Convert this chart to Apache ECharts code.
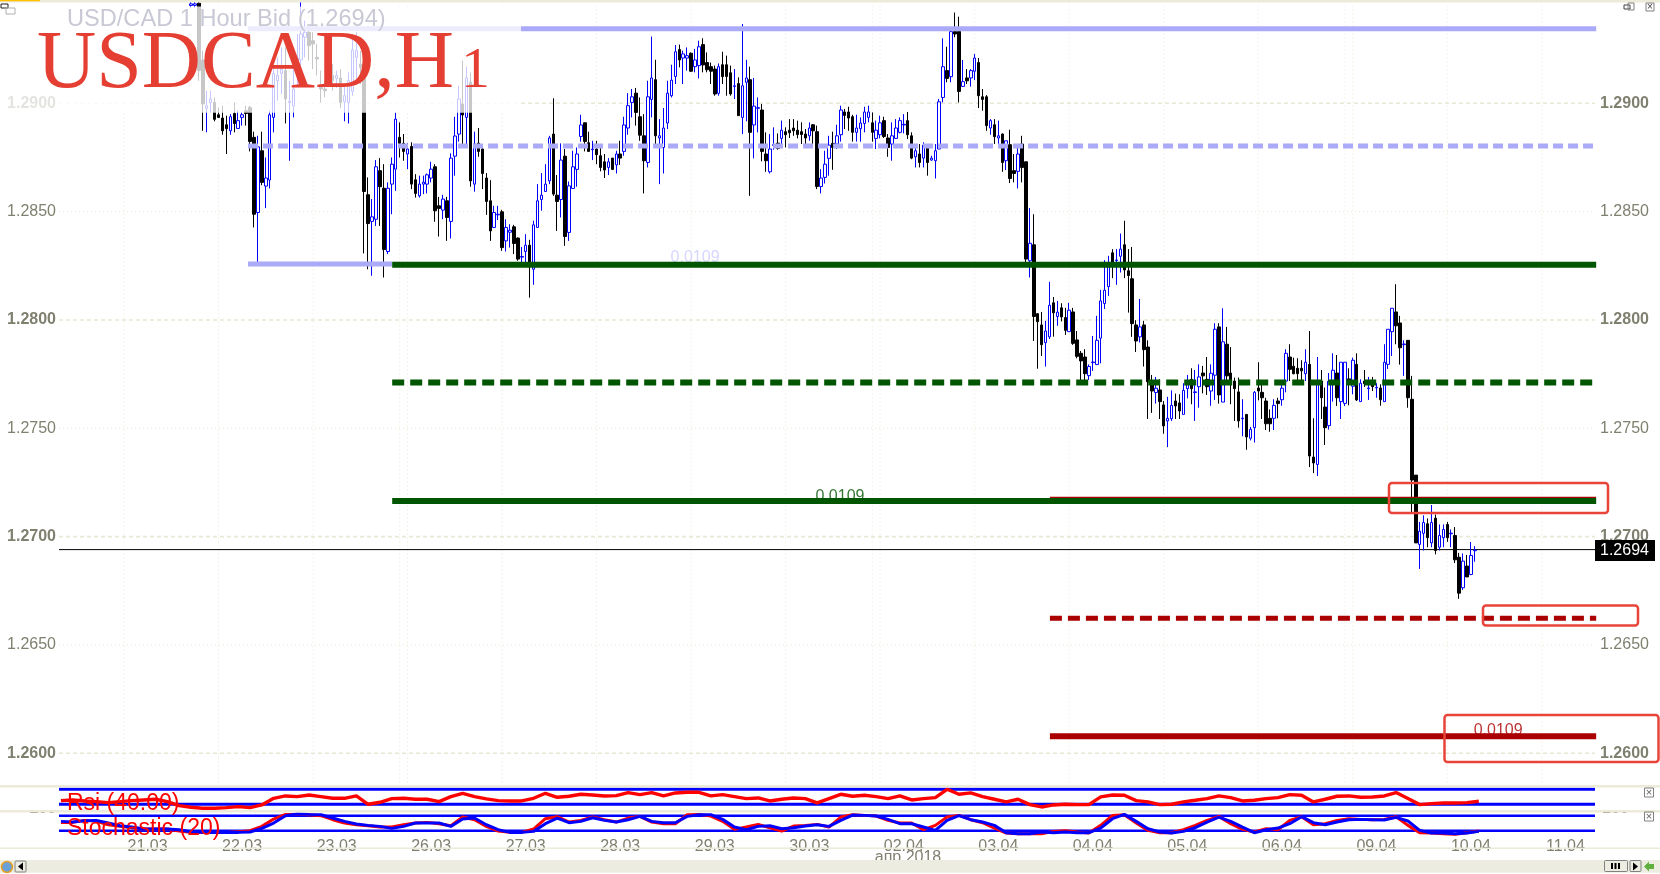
<!DOCTYPE html>
<html><head><meta charset="utf-8">
<style>html,body{margin:0;padding:0;background:#fff}#c{width:1660px;height:874px}</style>
<script src="https://cdn.jsdelivr.net/npm/echarts@6/dist/echarts.min.js"></script>
</head><body><div id="c"></div>
<script>
const firstCandleSlot = 33;
const opens = [1.29452,1.29452,
1.29462,1.29200,1.28977,1.29004,1.29004,1.28947,1.28932,1.28901,1.28873,1.28953,
1.28884,1.28935,1.28966,1.28981,1.28843,1.28496,1.28781,1.28618,1.28646,1.28935,
1.29104,1.29138,1.29151,1.29004,1.28987,1.29158,1.29200,1.29305,1.29328,1.29289,
1.29212,1.29074,1.29066,1.29104,1.29128,1.29115,1.29117,1.29007,1.29004,1.29055,
1.29212,1.29181,1.29181,1.28578,1.28455,1.28465,1.28689,1.28608,1.28316,1.28627,
1.28696,1.28843,1.28815,1.28766,1.28801,1.28647,1.28573,1.28627,1.28627,1.28655,
1.28707,1.28527,1.28507,1.28550,1.28455,1.28756,1.28858,1.28997,1.28935,1.29097,
1.28627,1.28816,1.28789,1.28655,1.28550,1.28427,1.28485,1.28499,1.28365,1.28405,
1.28430,1.28378,1.28290,1.28316,1.28345,1.28234,1.28427,1.28556,1.28593,1.28642,
1.28858,1.28576,1.28556,1.28756,1.28404,1.28607,1.28695,1.28847,1.28910,1.28818,
1.28786,1.28789,1.28758,1.28730,1.28704,1.28747,1.28716,1.28766,1.28778,1.28886,
1.29004,1.29047,1.28938,1.28850,1.28727,1.29018,1.29109,1.28840,1.28796,1.28909,
1.29035,1.29124,1.29248,1.29209,1.29209,1.29231,1.29169,1.29174,1.29271,1.29188,
1.29169,1.29158,1.29046,1.29178,1.29178,1.29141,1.29078,1.29091,1.28935,1.29097,
1.29109,1.28900,1.28977,1.28969,1.28766,1.28684,1.28806,1.28816,1.28838,1.28869,
1.28876,1.28886,1.28876,1.28869,1.28858,1.28850,1.28901,1.28869,1.28616,1.28658,
1.28746,1.28815,1.28812,1.28855,1.28960,1.28960,1.28938,1.28866,1.28883,1.28907,
1.28935,1.28910,1.28838,1.28855,1.28920,1.28840,1.28812,1.28838,1.28866,1.28900,
1.28920,1.28850,1.28753,1.28766,1.28747,1.28796,1.28738,1.28735,1.28789,1.29027,
1.29151,1.29123,1.29331,1.29332,1.29078,1.29117,1.29117,1.29148,1.29188,1.29030,
1.29030,1.28886,1.28901,1.28840,1.28858,1.28735,1.28809,1.28689,1.28686,1.28812,
1.28730,1.28273,1.28347,1.28029,1.27977,1.27895,1.27922,1.28079,1.28016,1.28056,
1.28011,1.27946,1.28037,1.27908,1.27846,1.27829,1.27743,1.27803,1.27794,1.27916,
1.28076,1.28154,1.28310,1.28274,1.28294,1.28347,1.28227,1.28190,1.27977,1.27922,
1.27977,1.27875,1.27718,1.27665,1.27677,1.27608,1.27534,1.27544,1.27626,1.27617,
1.27564,1.27683,1.27726,1.27665,1.27692,1.27755,1.27726,1.27672,1.27745,1.27968,
1.27621,1.27888,1.27755,1.27718,1.27668,1.27544,1.27564,1.27454,1.27503,1.27686,
1.27666,1.27626,1.27546,1.27546,1.27626,1.27632,1.27718,1.27829,1.27786,1.27777,
1.27777,1.27752,1.27795,1.27367,1.27333,1.27718,1.27598,1.27512,1.27708,1.27755,
1.27623,1.27615,1.27728,1.27694,1.27795,1.27623,1.27718,1.27683,1.27708,1.27686,
1.27686,1.27623,1.27795,1.27946,1.28037,1.27986,1.27886,1.27906,1.27634,1.27284,
1.26964,1.27015,1.27059,1.26971,1.27085,1.26951,1.26995,1.27056,1.27013,1.27005,
1.26905,1.26764,1.26864,1.26825,1.26935];
const closes = [1.29459,1.29459,
1.29151,1.28997,1.28989,1.29020,1.28926,1.28935,1.28873,1.28883,1.28938,1.28907,
1.28920,1.28947,1.28953,1.28824,1.28488,1.28799,1.28635,1.28655,1.28947,1.29138,
1.29128,1.29158,1.29020,1.29009,1.29066,1.29209,1.29320,1.29328,1.29266,1.29274,
1.29205,1.29066,1.29058,1.29140,1.29104,1.29128,1.29004,1.29035,1.29104,1.29246,
1.29243,1.29166,1.28593,1.28445,1.28476,1.28707,1.28615,1.28325,1.28608,1.28719,
1.28927,1.28815,1.28778,1.28789,1.28627,1.28584,1.28627,1.28636,1.28670,1.28696,
1.28504,1.28515,1.28558,1.28473,1.28747,1.28849,1.29020,1.28946,1.29117,1.28642,
1.28812,1.28778,1.28676,1.28547,1.28411,1.28496,1.28488,1.28334,1.28427,1.28414,
1.28353,1.28281,1.28293,1.28345,1.28265,1.28439,1.28550,1.28576,1.28627,1.28840,
1.28581,1.28547,1.28738,1.28385,1.28619,1.28707,1.28766,1.28900,1.28824,1.28778,
1.28789,1.28763,1.28704,1.28692,1.28730,1.28695,1.28766,1.28747,1.28900,1.28989,
1.29030,1.28958,1.28853,1.28735,1.29030,1.29117,1.28850,1.28850,1.28886,1.29047,
1.29107,1.29238,1.29200,1.29228,1.29220,1.29148,1.29200,1.29261,1.29177,1.29155,
1.29148,1.29043,1.29169,1.29123,1.29124,1.29043,1.29081,1.28943,1.29081,1.29117,
1.28866,1.28987,1.28980,1.28778,1.28735,1.28789,1.28809,1.28792,1.28876,1.28855,
1.28864,1.28873,1.28856,1.28856,1.28840,1.28886,1.28873,1.28616,1.28655,1.28719,
1.28807,1.28796,1.28850,1.28969,1.28944,1.28932,1.28866,1.28886,1.28909,1.28960,
1.28960,1.28866,1.28876,1.28910,1.28847,1.28796,1.28850,1.28886,1.28920,1.28903,
1.28855,1.28747,1.28781,1.28727,1.28807,1.28727,1.28747,1.28781,1.29007,1.29169,
1.29115,1.29331,1.29320,1.29055,1.29100,1.29104,1.29151,1.29209,1.29035,1.29018,
1.28897,1.28920,1.28846,1.28850,1.28727,1.28827,1.28653,1.28676,1.28766,1.28704,
1.28281,1.28354,1.28016,1.27992,1.27886,1.27949,1.28068,1.28033,1.28036,1.28014,
1.27952,1.28045,1.27892,1.27832,1.27811,1.27752,1.27785,1.27806,1.27906,1.28088,
1.28137,1.28248,1.28250,1.28277,1.28327,1.28231,1.28205,1.27983,1.27903,1.27968,
1.27863,1.27715,1.27672,1.27685,1.27623,1.27511,1.27546,1.27606,1.27603,1.27580,
1.27675,1.27703,1.27683,1.27668,1.27737,1.27742,1.27692,1.27754,1.27957,1.27654,
1.27899,1.27742,1.27723,1.27683,1.27534,1.27547,1.27460,1.27495,1.27666,1.27672,
1.27641,1.27521,1.27521,1.27606,1.27614,1.27685,1.27846,1.27772,1.27752,1.27752,
1.27765,1.27805,1.27372,1.27340,1.27717,1.27641,1.27503,1.27717,1.27768,1.27641,
1.27805,1.27805,1.27706,1.27814,1.27631,1.27708,1.27706,1.27686,1.27692,1.27689,
1.27632,1.27805,1.27957,1.28054,1.27973,1.27872,1.27889,1.27641,1.27261,1.26971,
1.27025,1.27065,1.26995,1.27065,1.26936,1.27005,1.27033,1.26995,1.27016,1.26893,
1.26739,1.26887,1.26814,1.26913,1.26938];
const highs = [1.29469,1.29469,
1.29469,1.29243,1.29058,1.29058,1.29027,1.28981,1.28989,1.28943,1.28950,1.29004,
1.28966,1.28958,1.28989,1.28989,1.28869,1.28850,1.28869,1.28750,1.28966,1.29166,
1.29212,1.29258,1.29258,1.29104,1.29181,1.29320,1.29469,1.29382,1.29351,1.29328,
1.29274,1.29151,1.29104,1.29181,1.29181,1.29151,1.29158,1.29081,1.29143,1.29320,
1.29328,1.29243,1.29204,1.28658,1.28558,1.28738,1.28747,1.28719,1.28635,1.28750,
1.28958,1.28912,1.28858,1.28815,1.28820,1.28673,1.28666,1.28666,1.28676,1.28730,
1.28719,1.28568,1.28578,1.28568,1.28769,1.28938,1.29081,1.29197,1.29169,1.29143,
1.28869,1.28886,1.28812,1.28678,1.28645,1.28527,1.28527,1.28508,1.28465,1.28442,
1.28439,1.28381,1.28337,1.28396,1.28370,1.28458,1.28627,1.28678,1.28719,1.28850,
1.29023,1.28669,1.28815,1.28789,1.28639,1.28781,1.28796,1.28947,1.28910,1.28869,
1.28827,1.28827,1.28804,1.28766,1.28747,1.28747,1.28781,1.28827,1.28938,1.29047,
1.29066,1.29071,1.29027,1.28950,1.29104,1.29308,1.29201,1.28927,1.28978,1.29104,
1.29178,1.29269,1.29271,1.29243,1.29258,1.29235,1.29251,1.29289,1.29300,1.29235,
1.29188,1.29174,1.29184,1.29238,1.29220,1.29174,1.29158,1.29120,1.29366,1.29201,
1.29169,1.29117,1.29027,1.28997,1.28866,1.28858,1.28889,1.28861,1.28920,1.28889,
1.28927,1.28927,1.28920,1.28912,1.28881,1.28912,1.28904,1.28897,1.28696,1.28781,
1.28850,1.28869,1.28901,1.28989,1.28974,1.28984,1.28947,1.28947,1.28935,1.28984,
1.28989,1.28958,1.28920,1.28943,1.28938,1.28858,1.28912,1.28927,1.28935,1.28950,
1.28960,1.28866,1.28812,1.28812,1.28820,1.28812,1.28758,1.28812,1.29020,1.29300,
1.29261,1.29351,1.29419,1.29400,1.29200,1.29158,1.29158,1.29228,1.29209,1.29066,
1.29038,1.28927,1.28927,1.28920,1.28861,1.28827,1.28878,1.28766,1.28796,1.28850,
1.28730,1.28516,1.28488,1.28029,1.28037,1.27996,1.28176,1.28106,1.28088,1.28077,
1.28056,1.28079,1.28056,1.27949,1.27857,1.27865,1.27795,1.27926,1.28019,1.28139,
1.28276,1.28296,1.28327,1.28327,1.28399,1.28458,1.28327,1.28337,1.27999,1.28097,
1.27996,1.27906,1.27746,1.27737,1.27726,1.27626,1.27645,1.27675,1.27660,1.27657,
1.27708,1.27746,1.27777,1.27769,1.27795,1.27788,1.27829,1.27795,1.27985,1.27985,
1.28054,1.27968,1.27875,1.27734,1.27734,1.27634,1.27564,1.27506,1.27672,1.27805,
1.27715,1.27641,1.27587,1.27634,1.27641,1.27718,1.27865,1.27888,1.27826,1.27823,
1.27814,1.27865,1.27949,1.27546,1.27829,1.27769,1.27688,1.27755,1.27846,1.27838,
1.27805,1.27805,1.27777,1.27826,1.27846,1.27726,1.27769,1.27737,1.27737,1.27708,
1.27703,1.27888,1.27957,1.28054,1.28165,1.28019,1.27906,1.27906,1.27742,1.27284,
1.27068,1.27098,1.27084,1.27146,1.27102,1.27056,1.27056,1.27068,1.27033,1.27044,
1.26925,1.26922,1.26915,1.26975,1.26956];
const lows = [1.29440,1.29440,
1.29104,1.28873,1.28866,1.28958,1.28917,1.28932,1.28855,1.28766,1.28855,1.28866,
1.28884,1.28897,1.28897,1.28778,1.28427,1.28265,1.28622,1.28516,1.28607,1.28866,
1.29012,1.29043,1.28907,1.28735,1.28935,1.29074,1.29112,1.29212,1.29197,1.29158,
1.29128,1.29004,1.29027,1.29081,1.29058,1.29071,1.28978,1.28917,1.28907,1.29035,
1.29089,1.29089,1.28307,1.28234,1.28204,1.28434,1.28434,1.28196,1.28304,1.28488,
1.28596,1.28750,1.28735,1.28696,1.28604,1.28565,1.28565,1.28581,1.28584,1.28635,
1.28453,1.28385,1.28465,1.28365,1.28376,1.28666,1.28823,1.28812,1.28812,1.28615,
1.28592,1.28753,1.28604,1.28485,1.28365,1.28424,1.28461,1.28319,1.28316,1.28334,
1.28304,1.28273,1.28265,1.28265,1.28103,1.28162,1.28427,1.28504,1.28593,1.28627,
1.28573,1.28411,1.28473,1.28342,1.28365,1.28607,1.28615,1.28823,1.28778,1.28778,
1.28738,1.28719,1.28686,1.28655,1.28669,1.28692,1.28676,1.28716,1.28758,1.28855,
1.28935,1.28897,1.28827,1.28584,1.28704,1.28935,1.28796,1.28627,1.28676,1.28881,
1.29027,1.29089,1.29166,1.29089,1.29151,1.29146,1.29143,1.29115,1.29143,1.29143,
1.29089,1.29035,1.29035,1.29089,1.29035,1.29035,1.29020,1.28943,1.28858,1.28917,
1.28573,1.28746,1.28866,1.28732,1.28684,1.28676,1.28786,1.28786,1.28796,1.28796,
1.28840,1.28850,1.28838,1.28812,1.28796,1.28827,1.28796,1.28604,1.28584,1.28630,
1.28666,1.28693,1.28789,1.28823,1.28881,1.28873,1.28823,1.28823,1.28823,1.28866,
1.28912,1.28823,1.28789,1.28838,1.28840,1.28753,1.28735,1.28835,1.28861,1.28861,
1.28835,1.28742,1.28704,1.28704,1.28704,1.28666,1.28735,1.28653,1.28789,1.29004,
1.29097,1.29097,1.29305,1.29004,1.29077,1.29089,1.29077,1.29107,1.28978,1.28966,
1.28873,1.28855,1.28812,1.28812,1.28684,1.28692,1.28632,1.28635,1.28607,1.28635,
1.28265,1.28196,1.27903,1.27775,1.27834,1.27785,1.27912,1.27923,1.27973,1.27993,
1.27931,1.27946,1.27885,1.27823,1.27718,1.27718,1.27723,1.27765,1.27794,1.27800,
1.28051,1.28111,1.28193,1.28162,1.28219,1.28193,1.28034,1.27922,1.27852,1.27896,
1.27785,1.27543,1.27571,1.27614,1.27543,1.27475,1.27413,1.27534,1.27543,1.27543,
1.27564,1.27638,1.27611,1.27534,1.27595,1.27661,1.27654,1.27604,1.27631,1.27614,
1.27621,1.27722,1.27611,1.27534,1.27503,1.27463,1.27401,1.27444,1.27434,1.27629,
1.27543,1.27492,1.27484,1.27492,1.27546,1.27604,1.27666,1.27718,1.27749,1.27714,
1.27718,1.27718,1.27321,1.27293,1.27280,1.27543,1.27423,1.27494,1.27623,1.27603,
1.27543,1.27603,1.27606,1.27657,1.27626,1.27623,1.27691,1.27631,1.27672,1.27641,
1.27604,1.27623,1.27774,1.27834,1.27888,1.27794,1.27742,1.27595,1.27110,1.26971,
1.26851,1.26936,1.26951,1.26951,1.26918,1.26936,1.26951,1.26976,1.26951,1.26878,
1.26713,1.26754,1.26814,1.26822,1.26884];

const rsiValues = [39.8,41.6,38.9,37.1,34.5,37.1,39.8,41.6,43.4,37.1,26.5,22,19.4,19.4,21.1,23.8,21.1,28.3,46,52.3,50.5,54.9,50.5,46,46,52.3,30,35.4,45.2,46,43.4,43.4,37.1,50.5,59.4,50.5,44.3,39.8,38.9,38.9,46,
59.4,48.7,51.4,56.7,54.9,52.3,53.2,61.2,55.8,61.2,52.3,60.3,62,62,52.3,55.8,50.5,45.2,46.9,38.9,43.4,46.9,45.2,33.6,45.2,56.7,51.4,54,50.5,45.2,52.3,41.6,45.2,47.8,70,56.7,60.3,50.5,43.4,36.3,43.4,29.1,22.9,28.3,30,29.1,29.1,49.6,54.9,54,39.8,36.3,29.1,30,36.3,40.7,45.2,52.3,47.8,38.9,40.7,45.2,47.8,55.8,54,36.3,43.4,51.4,52.3,48.7,49.6,52.3,61.2,45.2,29.1,31.8,33.6,33.6,34.5,38];
const stochBlue = [57.3,54.7,60,61.3,50.7,40,34.7,26.7,26.7,26.7,24,16,13.3,13.3,13.3,13.3,14.7,29.3,50.7,80,86.7,85.3,84,70.7,57.3,46.7,41.3,37.3,29.3,37.3,50.7,50.7,50.7,37.3,66.7,70.7,44,24,13.3,13.3,17.3,
48,70.6,52,57.3,72,61.3,54.6,64,77.3,57.3,52,52,77.3,84,84,65.3,34.6,24,37.3,40,28,32,38.6,44,37.3,61.3,82.6,81.3,78.6,65.3,48,48,34.6,21.3,61.3,80,64,54.6,41.3,12,8,8,14.6,12,14.6,12,12,30.6,68,85.3,57.3,28,14.6,10.6,17.3,32,54.6,74.6,57.3,34.6,12,24,30.6,48,76,52,44,54.6,64,65.3,64,62.6,73.3,58.6,21.3,10.6,10.6,8,10.6,17.3];
const stochRed = [53.3,53.3,61.3,57.3,44,37.3,32,26.7,26.7,26.7,18.7,13.3,13.3,13.3,13.3,16,20,37.3,66.7,85.3,85.3,84,80,64,50.7,44,40,34.7,34.7,44,50.7,53.3,48,40,74.7,64,37.3,18.7,13.3,13.3,26.7,
68,76,54.6,61.3,74.6,64,54.6,70.6,77.3,54.6,48,48,84,85.3,78.6,57.3,25.3,34.6,45.3,32,18.6,38.6,41.3,45.3,34.6,74.6,84,81.3,78.6,61.3,50.6,50.6,24,41.3,74.6,81.3,64,52,30.6,10.6,8,8,8,17.3,20,14.6,10.6,41.3,81.3,84,50.6,21.3,12,12,24,41.3,61.3,77.3,48,25.3,14.6,28,24,61.3,76,44,48,61.3,68,65.3,64,65.3,76,41.3,12,10.6,8,5.3,12,18.6];
const indicatorStep = 3;
const rsiBands = [70, 30];
const stochBands = [80, 20];

const slotCount = 390;
const dayLabels = ['21.03','22.03','23.03','26.03','27.03','28.03','29.03','30.03','02.04','03.04','04.04','05.04','06.04','09.04','10.04','11.04'];
const firstLabelSlot = 22, labelEvery = 24;
const dayLineSlots = [16.5,40.5,64.5,86.5,88.5,112.5,136.5,160.5,184.5,206.5,208.5,232.5,256.5,280.5,304.5,326.5,328.5,352.5,376.5];
const majorTicks = [1.26,1.27,1.28,1.29];
const minorTicks = [1.265,1.275,1.285];
const lastPrice = 1.2694;
const priceMin = 1.258466, priceMax = 1.294653;

const BLUE='#aaaaf8', GREEN='#005500', RED='#aa0000', TXT='#808070', GRID='#e9e7d6', BOX='#e8443a';
const FONT='"Liberation Sans",Arial,sans-serif';
const levels = [
  {from:48,   to:390.3, v:1.29344, c:BLUE,  w:5},
  {from:48,   to:390.3, v:1.28803, c:BLUE,  w:5,   d:[10,5]},
  {from:48,   to:84.6,  v:1.28258, c:BLUE,  w:5},
  {from:84.6, to:390.3, v:1.28255, c:GREEN, w:6},
  {from:84.6, to:390.3, v:1.27711, c:GREEN, w:6,   d:[12,6]},
  {from:251.6,to:390.3, v:1.27179, c:RED,   w:2},
  {from:84.6, to:390.3, v:1.27164, c:GREEN, w:6},
  {from:251.6,to:390.3, v:1.26623, c:RED,   w:5,   d:[12,6]},
  {from:251.6,to:390.3, v:1.26078, c:RED,   w:6}
];
const levelTexts = [
  {slot:161.5, v:1.28288, c:'#ccccff'},
  {slot:198.3, v:1.27185, c:GREEN},
  {slot:365.4, v:1.26103, c:RED}
];

const candleData = Array.from({length:slotCount},(_,i)=>{
  const k=i-firstCandleSlot;
  return (k>=0&&k<opens.length)?[opens[k],closes[k],lows[k],highs[k]]:['-','-','-','-'];
});
const categories = Array.from({length:slotCount},(_,i)=>{
  const n=(i-firstLabelSlot)/labelEvery;
  return (i>=firstLabelSlot&&Number.isInteger(n)&&n<dayLabels.length)?dayLabels[n]:'';
});
const indicatorData = vals => vals.map((v,j)=>[j*indicatorStep+0.5,v]);

function seg(xi,yi,pts,color,width,dash,z){
  return {type:'line',xAxisIndex:xi,yAxisIndex:yi,data:pts,symbol:'none',silent:true,animation:false,clip:false,z:z,
    lineStyle:{color:color,width:width,type:dash||'solid',cap:'butt'}};
}
const series=[];
dayLineSlots.forEach(s=>series.push(seg(1,0,[[s,priceMin],[s,priceMax]],GRID,1,[1,3],1)));
majorTicks.forEach(v=>series.push(seg(1,0,[[0,v],[slotCount,v]],GRID,1.6,[4,3],1)));
minorTicks.forEach(v=>series.push(seg(1,0,[[0,v],[slotCount,v]],GRID,1,[1,3],1)));
series.push(seg(1,0,[[0,lastPrice],[slotCount,lastPrice]],'#000',1,null,1));
levelTexts.forEach(t=>series.push({type:'scatter',xAxisIndex:1,yAxisIndex:0,data:[[t.slot,t.v]],symbolSize:1,silent:true,animation:false,z:2,
  itemStyle:{color:'transparent'},label:{show:true,position:'inside',formatter:'0.0109',color:t.c,fontFamily:FONT,fontSize:16}}));
series.push({type:'candlestick',xAxisIndex:0,yAxisIndex:0,data:candleData,barWidth:3,animation:false,silent:true,z:3,
  itemStyle:{color:'#fff',color0:'#000',borderColor:'#0000ff',borderColor0:'#000',borderWidth:1}});
levels.forEach(l=>series.push(seg(1,0,[[l.from,l.v],[l.to,l.v]],l.c,l.w,l.d,4)));
rsiBands.forEach(v=>series.push(seg(2,2,[[0,v],[slotCount,v]],'#0000ff',3,null,2)));
stochBands.forEach(v=>series.push(seg(4,3,[[0,v],[slotCount,v]],'#0000ff',2.5,null,2)));
series.push(seg(2,2,indicatorData(rsiValues),'#ff0000',3.4,null,3));
series.push(seg(4,3,indicatorData(stochRed),'#ff0000',3,null,3));
series.push(seg(4,3,indicatorData(stochBlue),'#0000ff',3,null,4));

const tick = v => majorTicks.includes(v)?'{b|'+v.toFixed(4)+'}':'{r|'+v.toFixed(4)+'}';
const rich={b:{color:TXT,fontFamily:FONT,fontSize:16,fontWeight:'bold'},r:{color:TXT,fontFamily:FONT,fontSize:16}};
const allTicks=[...majorTicks,...minorTicks].sort();
const yMain=(pos,m)=>({type:'value',gridIndex:0,position:pos,min:priceMin,max:priceMax,axisLine:{show:false},splitLine:{show:false},
  axisTick:{show:false},axisLabel:{show:true,customValues:allTicks,margin:m,formatter:tick,rich:rich}});
const hiddenX=(g)=>({type:'value',gridIndex:g,min:0,max:slotCount,show:false});
const hiddenY=(g,a,b)=>({type:'value',gridIndex:g,min:a,max:b,show:false});

const rect=(x,y,w,h,fill,z,extra)=>({type:'rect',silent:true,z:z,shape:Object.assign({x,y,width:w,height:h},extra||{}),style:{fill}});
const frame=(x,y,w,h,stroke,lw,r,z)=>({type:'rect',silent:true,z:z,shape:{x,y,width:w,height:h,r:r||0},style:{fill:'none',stroke,lineWidth:lw}});
const text=(x,y,s,fill,font,z,align)=>({type:'text',silent:true,z:z,style:{x,y,text:s,fill,font,textAlign:align||'left',textVerticalAlign:'middle'}});
const poly=(pts,fill,z)=>({type:'polygon',silent:true,z:z,shape:{points:pts},style:{fill}});
const f16='16px '+FONT, f16b='bold 16px '+FONT;

const graphics=[
  rect(0,0,1660,2.5,'#ecead8',20), rect(0,0,40,1.2,'#ffc000',21),
  text(56,809,'100',TXT,f16b,20,'right'), text(1602,809,'100',TXT,f16b,20,'left'),
  rect(28,795,31,15.7,'#fff',21), rect(1597,795,45,15.7,'#fff',21),
  rect(0,785,1660,2.5,'#ecead8',22), rect(0,810,1660,2.5,'#ecead8',22), rect(0,847.5,1660,1.5,'#ecead8',22),
  text(908,858,'апр 2018',TXT,f16,20,'center'),
  rect(0,860,1660,12.7,'#ecece0',30),
  rect(0,6.5,521,106.2,'rgba(255,255,255,0.78)',40),
  text(67,19,'USD/CAD 1 Hour Bid (1.2694)','#c9c9d6','23.6px '+FONT,41),
  text(37,65,'USDCAD,H','#e53e32','82px "Liberation Serif",serif',42),
  text(461,71.5,'1','#e53e32','58px "Liberation Serif",serif',42),
  rect(1595,540,60,21,'#000',43), text(1600,550.5,'1.2694','#fff',f16,44),
  frame(1389,483,219,30,BOX,2.5,3,45), frame(1483,605.5,155,20,BOX,2.5,3,45), frame(1444.5,715,214,47,BOX,2.5,3,45),
  frame(1644.5,788,9,9,'#808080',1,0,46), text(1649,792.5,'×','#606060','11px '+FONT,46,'center'),
  frame(1644.5,812,9,9,'#808080',1,0,46), text(1649,816.5,'×','#606060','11px '+FONT,46,'center'),
  frame(1646,3,8,8,'#808080',1,0,46), text(1650,7,'×','#404040','10px '+FONT,46,'center'),
  frame(1624,5,6,4,'#404040',1,0,46), frame(1628,3,6,7,'#808080',1,0,46),
  frame(1,4,7,4,'#202020',1,0,46), frame(6,8,9,6,'#b0b0b0',1,0,46),
  {type:'circle',silent:true,z:46,shape:{cx:7,cy:867,r:5.5},style:{fill:'#6aa0d8',stroke:'#e8a020',lineWidth:1.5}},
  frame(15,861,11,11,'#808080',1,1,46), poly([[23,862.5],[23,870.5],[18,866.5]],'#000',47),
  frame(1604.5,860.5,23,11,'#808080',1,1,46), rect(1611,863,2,6,'#000',47), rect(1614.5,863,2,6,'#000',47), rect(1618,863,2,6,'#000',47),
  frame(1630,860.5,11,11,'#808080',1,1,46), poly([[1633,862.5],[1633,870.5],[1638,866.5]],'#000',47),
  poly([[1644,866.5],[1649,861.5],[1649,864],[1654,864],[1654,869],[1649,869],[1649,871.5]],'#60b040',46),
  text(67,803.5,'Rsi (40.00)','#ff0000','23px '+FONT,46),
  text(67,829,'Stochastic (20)','#ff0000','23px '+FONT,46)
];

const chart=echarts.init(document.getElementById('c'),null,{renderer:'canvas'});
chart.setOption({
  animation:false,
  backgroundColor:'#fff',
  grid:[
    {left:59,top:2.5,width:1536,height:784},
    {left:59,top:786,width:1536,height:25},
    {left:59,top:811,width:1536,height:25}
  ],
  xAxis:[
    {type:'category',gridIndex:0,data:categories,show:false},
    hiddenX(0),
    hiddenX(1),
    {type:'category',gridIndex:2,data:categories,position:'bottom',axisLine:{show:false},axisTick:{show:false},splitLine:{show:false},
      axisLabel:{show:true,interval:(i,v)=>v!=='',margin:3,color:TXT,fontFamily:FONT,fontSize:16}},
    hiddenX(2)
  ],
  yAxis:[
    yMain('left',3),
    yMain('right',5),
    hiddenY(1,12.1,78.8),
    hiddenY(2,-1.2,98.8)
  ],
  series:series,
  graphic:{elements:graphics}
});
</script></body></html>
